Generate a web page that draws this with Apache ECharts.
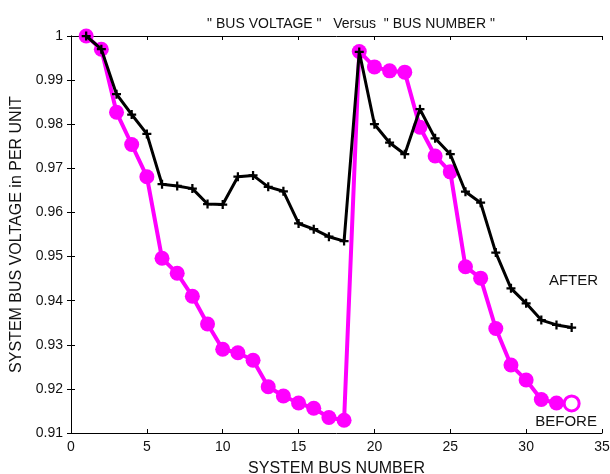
<!DOCTYPE html>
<html>
<head>
<meta charset="utf-8">
<script src="https://cdn.jsdelivr.net/npm/echarts@6/dist/echarts.min.js"></script>
<style>
  html, body { margin: 0; padding: 0; background: #fff; }
  #main { width: 610px; height: 474px; }
</style>
</head>
<body>
<div id="main"></div>
<script>
// bus numbers 1..33
const busNumbers = [1, 2, 3, 4, 5, 6, 7, 8, 9, 10, 11, 12, 13, 14, 15, 16, 17,
  18, 19, 20, 21, 22, 23, 24, 25, 26, 27, 28, 29, 30, 31, 32, 33];

const afterVoltage = [1.0, 0.997, 0.9868, 0.9822, 0.9778, 0.9664, 0.966, 0.9654,
  0.9619, 0.9618, 0.9681, 0.9684, 0.9658, 0.9648, 0.9575, 0.9562, 0.9545, 0.9535,
  0.9964, 0.98, 0.9758, 0.9732, 0.9834, 0.9768, 0.9732, 0.9647, 0.9622, 0.9509,
  0.9428, 0.9394, 0.9356, 0.9345, 0.9339];

const beforeVoltage = [1.0, 0.997, 0.9827, 0.9754, 0.9681, 0.9496, 0.9462, 0.941,
  0.9347, 0.929, 0.9282, 0.9265, 0.9205, 0.9184, 0.9168, 0.9156, 0.9135, 0.9129,
  0.9965, 0.993, 0.9921, 0.9918, 0.9793, 0.9728, 0.9692, 0.9477, 0.9451, 0.9337,
  0.9254, 0.922, 0.9176, 0.9168, 0.9167];

// text annotations in data units
const afterLabel = ["AFTER", 33.12, 0.9445];
const beforeLabel = ["BEFORE", 32.63, 0.9126];

const xTicks = [0, 5, 10, 15, 20, 25, 30, 35];

const FONT = "Liberation Sans";
const MAGENTA = "#ff00ff";
const PLUS = "path://M3,0H5V3H8V5H5V8H3V5H0V3H3Z";

function pairs(values) {
  return busNumbers.map((b, i) => [b, values[i]]);
}

const beforeData = pairs(beforeVoltage).map((p, i, arr) => {
  if (i === arr.length - 1) {
    return { value: p, itemStyle: { color: "#fff", borderColor: MAGENTA, borderWidth: 3 } };
  }
  return p;
});

const chart = echarts.init(document.getElementById("main"));

const hiddenAxis = {
  axisLine: { show: true, lineStyle: { color: "#000", width: 1 } },
  axisTick: { show: true, inside: true, length: 4, lineStyle: { color: "#000" } },
  axisLabel: { show: false },
  splitLine: { show: false }
};

chart.setOption({
  animation: false,
  backgroundColor: "#fff",
  title: {
    text: '" BUS VOLTAGE "   Versus  " BUS NUMBER "',
    left: 346,
    textAlign: "center",
    top: 12,
    textStyle: { fontFamily: FONT, fontSize: 14, fontWeight: "normal", color: "#111" }
  },
  grid: { left: 71, right: 8, top: 36, bottom: 41, outerBoundsMode: "none", containLabel: false },
  xAxis: [
    {
      type: "value",
      min: xTicks[0],
      max: xTicks[xTicks.length - 1],
      interval: 5,
      name: "SYSTEM BUS NUMBER",
      nameLocation: "middle",
      nameGap: 28,
      nameTextStyle: { fontFamily: FONT, fontSize: 16, color: "#111" },
      axisLine: { show: true, lineStyle: { color: "#000", width: 1 } },
      axisTick: { show: true, inside: true, length: 4, lineStyle: { color: "#000" } },
      axisLabel: { fontFamily: FONT, fontSize: 14, color: "#111", margin: 7 },
      splitLine: { show: false }
    },
    Object.assign({ type: "value", position: "top", min: 0, max: 35, interval: 5 }, hiddenAxis)
  ],
  yAxis: [
    {
      type: "value",
      min: 0.91,
      max: 1,
      interval: 0.01,
      name: "SYSTEM BUS VOLTAGE in PER UNIT",
      nameLocation: "middle",
      nameGap: 43,
      nameTextStyle: { fontFamily: FONT, fontSize: 16, color: "#111" },
      axisLine: { show: true, lineStyle: { color: "#000", width: 1 } },
      axisTick: { show: true, inside: true, length: 4, lineStyle: { color: "#000" } },
      axisLabel: {
        fontFamily: FONT, fontSize: 14, color: "#111", margin: 8,
        formatter: v => String(Math.round(v * 100) / 100)
      },
      splitLine: { show: false }
    },
    Object.assign({ type: "value", position: "right", min: 0.91, max: 1, interval: 0.01 }, hiddenAxis)
  ],
  series: [
    {
      name: "AFTER",
      type: "line",
      data: pairs(afterVoltage),
      symbol: PLUS,
      symbolSize: 9,
      z: 3,
      lineStyle: { color: "#000", width: 3 },
      itemStyle: { color: "#000" }
    },
    {
      name: "BEFORE",
      type: "line",
      data: beforeData,
      symbol: "circle",
      symbolSize: 15,
      z: 2,
      lineStyle: { color: MAGENTA, width: 4 },
      itemStyle: { color: MAGENTA }
    }
  ]
});

function putLabels() {
  const items = [afterLabel, beforeLabel].map(([txt, x, y]) => {
    const pt = chart.convertToPixel({ xAxisIndex: 0, yAxisIndex: 0 }, [x, y]);
    return {
      type: "text",
      x: pt[0],
      y: pt[1],
      style: {
        text: txt, fontFamily: FONT, fontSize: 15, fill: "#111",
        textAlign: "center", textVerticalAlign: "middle"
      },
      z: 10
    };
  });
  chart.setOption({ graphic: items });
}
putLabels();
</script>
</body>
</html>
